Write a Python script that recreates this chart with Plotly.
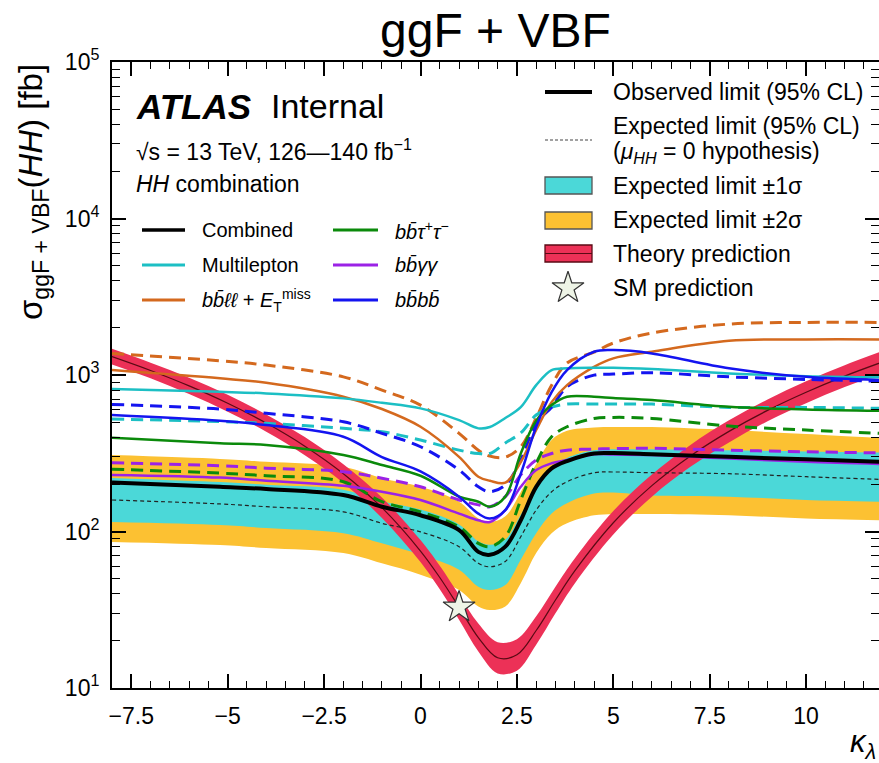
import plotly.graph_objects as go

# ---------------- data ----------------
kappa = [-8, -5.2, -4, -2, -1, 0, 1, 1.5, 1.8, 2.2, 2.6, 3.0, 3.4, 3.8, 4.5, 5, 6, 8, 10, 12]

comb_obs = [206, 193, 187, 171, 144, 127, 102, 74.1, 71, 80, 118, 193, 253, 282, 315, 317, 312, 300, 289, 279]
comb_exp = [159, 150, 144, 133.6, 112.8, 99.5, 80, 62.6, 59.5, 64.4, 92.6, 137, 179.5, 208, 237.5, 240, 237.5, 234, 224, 215]
comb_m1 = [115, 110, 105.3, 97.5, 84, 71, 57, 44.4, 42.3, 45.5, 66, 97.5, 130.2, 151.8, 175, 177.5, 170, 167, 159, 155]
comb_p1 = [220, 207, 199, 185, 156, 138, 111, 86.6, 82.3, 89, 128, 190, 255, 295, 330, 335, 335, 330, 325, 320]
comb_m2 = [85.8, 82, 78.4, 72.8, 62.6, 53, 42.3, 33.2, 31.5, 33.2, 46.7, 72.8, 97.5, 112.8, 127, 129, 129.5, 127, 121, 118]
comb_p2 = [308, 291, 279, 259, 219, 193, 155, 121, 115, 125, 179, 270, 385, 440, 462, 465, 465, 445, 420, 395]

ml_obs = [813, 781, 763, 709, 664, 612, 515, 456, 465, 531, 623, 861, 1075, 1103, 1113, 1113, 1091, 1024, 983, 965]
ml_exp = [523, 504, 491, 456, 434, 384, 331, 315, 315, 368, 426, 555, 623, 652, 652, 652, 652, 621, 621, 612]
bbll_obs = [1075, 952, 891, 726, 606, 467, 300, 224, 211, 205, 278, 445, 671, 861, 1128, 1277, 1407, 1654, 1688, 1688]
bbll_exp = [1374, 1232, 1157, 973, 801, 642, 424, 331, 303, 299, 348, 531, 861, 1193, 1400, 1600, 1855, 2115, 2167, 2167]
bbtt_obs = [397, 366, 357, 308, 266, 227, 167, 155, 144, 167, 315, 510, 642, 726, 726, 712, 691, 626, 603, 591]
bbtt_exp = [250, 236, 227, 208, 155, 133.6, 107, 84, 80, 92.6, 159, 273, 403, 467, 528, 536, 528, 472, 445, 423]
bbyy_obs = [230, 221, 211, 196, 179.5, 159, 130.2, 118, 115, 137, 193, 247, 273, 286, 312, 310, 308, 293, 279, 270]
bbyy_exp = [275, 263, 254, 241, 219, 193, 159, 148, 144, 167, 230, 286, 315, 331, 336, 338.5, 340, 331, 323, 318]
bbbb_obs = [555, 510, 479, 403, 299, 242, 167, 130, 121, 137, 234, 467, 777, 1075, 1407, 1442, 1374, 1103, 973, 927]
bbbb_exp = [649, 606, 569, 502, 424, 348, 247, 193, 179.5, 198, 286, 491, 623, 840, 998, 1013, 1033, 973, 937, 913]

th_kappa = [-8, -7, -6, -5, -4, -3, -2, -1, 0, 0.5, 1, 1.5, 2, 2.5, 3, 3.5, 4, 5, 6, 7, 8, 9, 10, 11, 12]
th_mid = [1311, 1069, 852, 660, 493, 351, 234, 142, 75, 50.8, 32.8, 21.0, 15.6, 16.3, 23.3, 36.5, 56, 113.7, 196.3, 303.9, 436.4, 594, 776, 984, 1216]
th_lo = [1168, 953, 756, 583, 434, 307, 204, 122, 63.8, 42.7, 27.3, 17.1, 12.4, 12.9, 18.9, 30.0, 46.6, 95.6, 167, 259, 371, 506, 660, 837, 1035]
th_hi = [1471, 1199, 960, 747, 560, 401, 269, 165, 88.1, 60.4, 39.4, 25.8, 19.6, 20.5, 28.7, 44.4, 67.3, 135.2, 231, 357, 513, 698, 912, 1156, 1429]

sm_kappa = [1.0]
sm_xsec = [32.8]

x_major = [-7.5, -5, -2.5, 0, 2.5, 5, 7.5, 10]
x_major_text = ["\u22127.5", "\u22125", "\u22122.5", "0", "2.5", "5", "7.5", "10"]
y_major = [10, 100, 1000, 10000, 100000]
y_major_text = ["10<sup>1</sup>", "10<sup>2</sup>", "10<sup>3</sup>", "10<sup>4</sup>", "10<sup>5</sup>"]

# ---------------- styles ----------------
C_YEL = "#fcc132"
C_CYA = "#4bd8d8"
C_RED = "#ec3157"
C_ML = "#1cbfc4"
C_BBLL = "#d4691e"
C_BBTT = "#0b8a0b"
C_BBYY = "#9b22e6"
C_BBBB = "#1414f0"
FONT = "Liberation Sans, Arial, Helvetica, sans-serif"

W_FIG, H_FIG = 879, 763
L, R, T, B = 112, 879, 62, 688
PW, PH = R - L, B - T


def px(x):
    return (x - L) / PW


def py(y):
    return (B - y) / PH


x_minor = [v / 2 for v in range(-16, 25) if (v / 2) % 2.5 != 0]
y_minor = [d * 10 ** e for e in range(1, 5) for d in range(2, 10)]

fig = go.Figure()

SPL = dict(shape="spline", smoothing=1.0)


def band(x, lo, hi, color):
    fig.add_trace(go.Scatter(x=x, y=lo, mode="lines", line=dict(width=0, **SPL),
                             showlegend=False, hoverinfo="skip"))
    fig.add_trace(go.Scatter(x=x, y=hi, mode="lines", line=dict(width=0, **SPL),
                             fill="tonexty", fillcolor=color, showlegend=False, hoverinfo="skip"))


band(kappa, comb_m2, comb_p2, C_YEL)
band(kappa, comb_m1, comb_p1, C_CYA)
band(th_kappa, th_lo, th_hi, C_RED)
fig.add_trace(go.Scatter(x=th_kappa, y=th_mid, mode="lines",
                         line=dict(color="#5a0a14", width=1.2, **SPL), showlegend=False))


def curve(y, color, width, dash="solid"):
    fig.add_trace(go.Scatter(x=kappa, y=y, mode="lines",
                             line=dict(color=color, width=width, dash=dash, **SPL),
                             showlegend=False))


DASH = "12px,7px"
curve(bbll_exp, C_BBLL, 3, DASH)
curve(ml_exp, C_ML, 3, DASH)
curve(bbbb_exp, C_BBBB, 3, DASH)
curve(bbtt_exp, C_BBTT, 3, DASH)
curve(bbyy_exp, C_BBYY, 3, DASH)
curve(bbll_obs, C_BBLL, 2.5)
curve(ml_obs, C_ML, 2.5)
curve(bbtt_obs, C_BBTT, 2.5)
curve(bbyy_obs, C_BBYY, 2.5)
curve(bbbb_obs, C_BBBB, 2.5)
curve(comb_exp, "#222222", 1.2, "4px,3px")
curve(comb_obs, "black", 4)

# SM star drawn on the right-hand (identical) log axis so that axis gets its ticks
fig.add_trace(go.Scatter(x=sm_kappa, y=sm_xsec, yaxis="y2", mode="markers",
                         marker=dict(symbol="star", size=24, color="#eef4e6",
                                     line=dict(color="#333333", width=1.2)),
                         showlegend=False))

# legend star marker on an overlay axis spanning the plot area
fig.add_trace(go.Scatter(x=[px(568)], y=[py(288)], xaxis="x3", yaxis="y3", mode="markers",
                         marker=dict(symbol="star", size=24, color="#eef4e6",
                                     line=dict(color="#333333", width=1.2)),
                         showlegend=False, hoverinfo="skip"))

shapes = []
annotations = []


def text(x, y, s, size, anchor="left", **kw):
    annotations.append(dict(x=px(x), y=py(y), xref="paper", yref="paper", text=s,
                            showarrow=False, xanchor=anchor, yanchor="middle",
                            font=dict(family=FONT, size=size, color="black"), **kw))


def hline(x0, x1, y, color, width, dash="solid"):
    shapes.append(dict(type="line", xref="paper", yref="paper", x0=px(x0), x1=px(x1),
                       y0=py(y), y1=py(y), line=dict(color=color, width=width, dash=dash)))


def box(x0, x1, y0, y1, fill, border):
    shapes.append(dict(type="rect", xref="paper", yref="paper", x0=px(x0), x1=px(x1),
                       y0=py(y1), y1=py(y0), fillcolor=fill, line=dict(color=border, width=1.3)))


# title & axis titles
text(495, 30, "ggF + VBF", 48, anchor="center")
annotations.append(dict(x=px(33), y=py(62), xref="paper", yref="paper",
                        text="σ<sub>ggF + VBF</sub>(<i>HH</i>) [fb]", textangle=-90,
                        showarrow=False, xanchor="center", yanchor="top",
                        font=dict(family=FONT, size=33, color="black")))
text(878, 744, "<i>κ</i><sub><i>λ</i></sub>", 31, anchor="right")

# ATLAS label
text(134, 106, "<b><i>ATLAS</i></b>", 35)
text(269, 106, "Internal", 34)
text(134, 150, "√s = 13 TeV, 126—140 fb<sup>−1</sup>", 23)
text(134, 184, "<i>HH</i> combination", 23)

# left legend
left_items = [
    (230, "black", 3.5, "Combined", 142, 185, 200),
    (265, C_ML, 3, "Multilepton", 142, 185, 200),
    (300, C_BBLL, 3, "<i>bb̄ℓℓ</i> + <i>E</i><sub>T</sub><sup>miss</sup>", 142, 185, 200),
    (230, C_BBTT, 3, "<i>bb̄τ</i><sup>+</sup><i>τ</i><sup>−</sup>", 333, 378, 393),
    (265, C_BBYY, 3, "<i>bb̄γγ</i>", 333, 378, 393),
    (300, C_BBBB, 3, "<i>bb̄bb̄</i>", 333, 378, 393),
]
for yy, col, wd, lab, x0, x1, xt in left_items:
    hline(x0, x1, yy, col, wd)
    text(xt, yy, lab, 20)

# right legend
hline(545, 592, 92, "black", 4)
text(611, 92, "Observed limit (95% CL)", 23)
hline(545, 592, 140, "#444444", 1.2, "3px,2px")
text(611, 126, "Expected limit (95% CL)", 23)
text(611, 153, "(<i>μ</i><sub><i>HH</i></sub> = 0 hypothesis)", 23)
box(545, 592, 177, 194, C_CYA, "#555555")
text(611, 186, "Expected limit ±1σ", 23)
box(545, 592, 212, 229, C_YEL, "#555555")
text(611, 220, "Expected limit ±2σ", 23)
box(545, 592, 245, 262, C_RED, "#5a0a14")
hline(545, 592, 253.5, "#5a0a14", 1.2)
text(611, 254, "Theory prediction", 23)
text(611, 288, "SM prediction", 23)

tickfont = dict(family=FONT, size=23, color="black")

fig.update_layout(
    width=W_FIG, height=H_FIG,
    margin=dict(l=L, r=W_FIG - R, t=T, b=H_FIG - B, pad=0),
    paper_bgcolor="white", plot_bgcolor="white",
    showlegend=False,
    shapes=shapes, annotations=annotations,
    xaxis=dict(range=[-8, 11.89], showline=True, linecolor="black", linewidth=2,
               mirror="ticks", ticks="inside", ticklen=14, tickwidth=1.5, tickcolor="black",
               tickmode="array", tickvals=x_major, ticktext=x_major_text, tickfont=tickfont,
               ticklabelstandoff=6,
               minor=dict(tickmode="array", tickvals=x_minor, ticks="inside", ticklen=7,
                          tickwidth=1.2, tickcolor="black", showgrid=False),
               showgrid=False, zeroline=False),
    yaxis=dict(type="log", range=[1, 5], showline=True, linecolor="black", linewidth=2,
               ticks="inside", ticklen=14, tickwidth=1.5, tickcolor="black",
               tickmode="array", tickvals=y_major, ticktext=y_major_text, tickfont=tickfont,
               ticklabelstandoff=6,
               minor=dict(tickmode="array", tickvals=y_minor, ticks="inside", ticklen=8,
                          tickwidth=1.2, tickcolor="black", showgrid=False),
               showgrid=False, zeroline=False),
    yaxis2=dict(type="log", range=[1, 5], overlaying="y", side="right", showline=False,
                ticks="inside", ticklen=14, tickwidth=1.5, tickcolor="black",
                tickmode="array", tickvals=y_major, showticklabels=False,
                minor=dict(tickmode="array", tickvals=y_minor, ticks="inside", ticklen=8,
                           tickwidth=1.2, tickcolor="black", showgrid=False),
                showgrid=False, zeroline=False),
    xaxis3=dict(overlaying="x", range=[0, 1], visible=False),
    yaxis3=dict(overlaying="y", range=[0, 1], visible=False),
)

fig.write_html("out.html")
